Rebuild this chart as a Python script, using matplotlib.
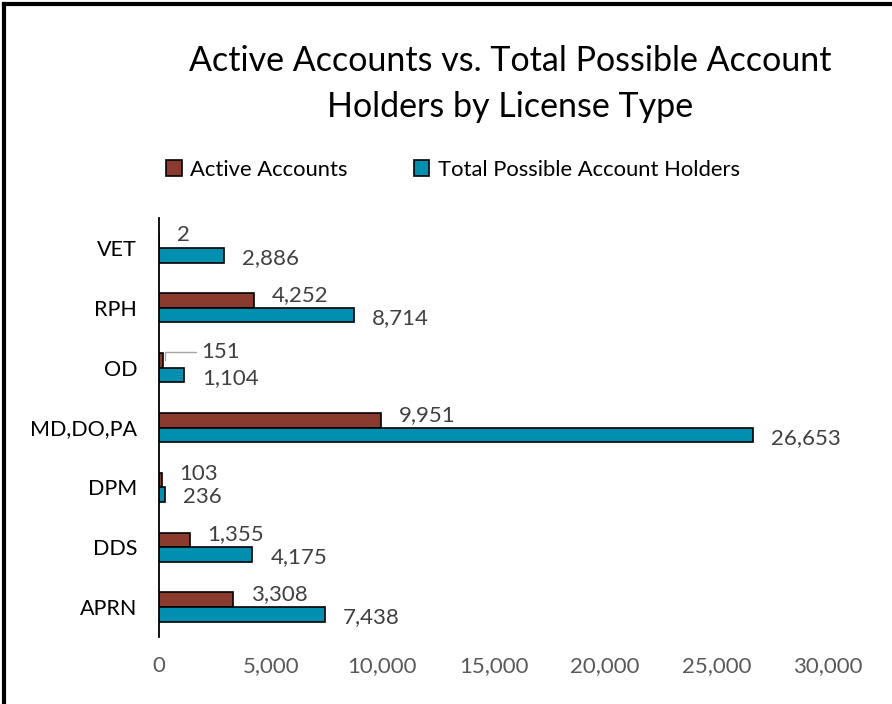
import matplotlib
matplotlib.use('Agg')
import matplotlib.pyplot as plt
import numpy as np

plt.rcParams['font.family'] = ['Lato', 'DejaVu Sans']

# данные с графика (снизу вверх)
license_types = ['APRN', 'DDS', 'DPM', 'MD,DO,PA', 'OD', 'RPH', 'VET']
active = [3308, 1355, 103, 9951, 151, 4252, 2]
total = [7438, 4175, 236, 26653, 1104, 8714, 2886]
x_ticks = [0, 5000, 10000, 15000, 20000, 25000, 30000]

c_active = '#8B3A2E'
c_total = '#008FAE'

fig = plt.figure(figsize=(8.92, 7.04), dpi=100)
ax = fig.add_axes([0.1786, 0.0952, 0.7495, 0.5951])

y = np.arange(len(license_types))
h = 0.245
ax.barh(y + h / 2, active, height=h, color=c_active, edgecolor='black', linewidth=1.2,
        label='Active Accounts')
ax.barh(y - h / 2, total, height=h, color=c_total, edgecolor='black', linewidth=1.2,
        label='Total Possible Account Holders')

ax.set_xlim(0, 30000)
ax.set_ylim(-0.5, len(license_types) - 0.5)
ax.set_yticks(y)
ax.set_yticklabels(license_types, fontsize=15.5, color='black')
ax.set_xticks(x_ticks)
ax.set_xticklabels([f'{v:,}' for v in x_ticks], fontsize=16, color='#595959')
ax.tick_params(axis='x', length=0, pad=14)
ax.tick_params(axis='y', length=0, pad=16)
for s in ['top', 'right', 'bottom']:
    ax.spines[s].set_visible(False)
ax.spines['left'].set_color('black')
ax.spines['left'].set_linewidth(1.3)

# подписи значений
for i in range(len(license_types)):
    if license_types[i] == 'OD':
        ax.annotate(f'{active[i]:,}', xy=(active[i] + 120, y[i] + h / 2), xytext=(26, 6),
                    textcoords='offset points', fontsize=16, color='#404040', va='center',
                    arrowprops=dict(arrowstyle='-', color='#A6A6A6', lw=1,
                                    connectionstyle='angle,angleA=0,angleB=90,rad=0',
                                    shrinkA=2, shrinkB=0))
    else:
        ax.annotate(f'{active[i]:,}', xy=(active[i], y[i] + h / 2), xytext=(13, 4),
                    textcoords='offset points', fontsize=16, color='#404040', va='center')
    ax.annotate(f'{total[i]:,}', xy=(total[i], y[i] - h / 2), xytext=(13, -2),
                textcoords='offset points', fontsize=16, color='#404040', va='center',
                annotation_clip=False)

fig.text(0.572, 0.914, 'Active Accounts vs. Total Possible Account', fontsize=24.5,
         ha='center', va='center')
fig.text(0.572, 0.848, 'Holders by License Type', fontsize=24.5, ha='center', va='center')

fig.legend(loc='center', bbox_to_anchor=(0.508, 0.759), ncol=2, frameon=False,
           fontsize=15.8, handlelength=0.7, handleheight=0.7, handletextpad=0.4,
           columnspacing=3.0)

# рамка слева и сверху
fig.add_artist(plt.Line2D([0.005, 0.005], [0, 0.995], color='black', lw=3,
                          transform=fig.transFigure))
fig.add_artist(plt.Line2D([0.005, 1], [0.995, 0.995], color='black', lw=3,
                          transform=fig.transFigure))

fig.savefig('out.png', dpi=100)
